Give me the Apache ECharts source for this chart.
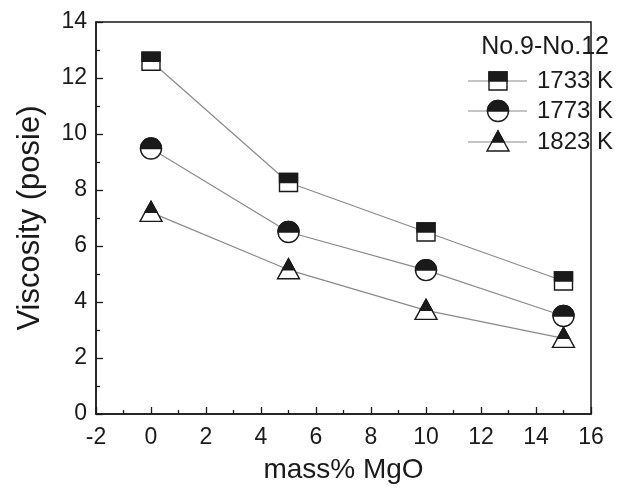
<!DOCTYPE html>
<html>
<head>
<meta charset="utf-8">
<script src="https://cdn.jsdelivr.net/npm/echarts@6/dist/echarts.min.js"></script>
<style>
  html, body { margin: 0; padding: 0; background: #fff; }
  #chart { width: 638px; height: 491px; }
</style>
</head>
<body>
<div id="chart"></div>
<script>
// MgO content (mass%) of samples No.9-No.12
const mgo = [0, 5, 10, 15];
const seriesNames = ['1733 K', '1773 K', '1823 K'];
const markerKinds = ['square', 'circle', 'triangle'];
// viscosity in poise at each temperature
const visc1733 = [12.6, 8.27, 6.5, 4.75];
const visc1773 = [9.48, 6.5, 5.14, 3.5];
const visc1823 = [7.2, 5.15, 3.7, 2.7];
const xTicks = { min: -2, max: 16, step: 2 };
const yTicks = { min: 0, max: 14, step: 2 };
const legendTitle = 'No.9-No.12';

const ink = '#1a1a1a';
const lineGray = '#8a8a8a';
const font = '"Liberation Sans", Arial, sans-serif';

// half-filled marker: white body with black outline, upper half solid black
function markerShape(kind, cx, cy) {
  const lw = 1.4;
  if (kind === 'square') {
    const h = 9;
    return [
      { type: 'rect', shape: { x: cx - h, y: cy - h, width: 2 * h, height: 2 * h },
        style: { fill: '#fff', stroke: ink, lineWidth: lw } },
      { type: 'rect', shape: { x: cx - h, y: cy - h, width: 2 * h, height: h },
        style: { fill: ink, stroke: ink, lineWidth: lw } }
    ];
  }
  if (kind === 'circle') {
    const r = 10.5;
    return [
      { type: 'circle', shape: { cx: cx, cy: cy, r: r },
        style: { fill: '#fff', stroke: ink, lineWidth: lw } },
      { type: 'sector', shape: { cx: cx, cy: cy, r: r, startAngle: Math.PI, endAngle: 2 * Math.PI },
        style: { fill: ink, stroke: ink, lineWidth: lw } }
    ];
  }
  const top = cy - 11, base = cy + 9, hw = 11;
  const midW = hw * (cy - top) / (base - top);
  return [
    { type: 'polygon', shape: { points: [[cx, top], [cx + hw, base], [cx - hw, base]] },
      style: { fill: '#fff', stroke: ink, lineWidth: lw, lineJoin: 'miter' } },
    { type: 'polygon', shape: { points: [[cx, top], [cx + midW, cy], [cx - midW, cy]] },
      style: { fill: ink, stroke: ink, lineWidth: lw, lineJoin: 'miter' } }
  ];
}

const allValues = [visc1733, visc1773, visc1823];

const lineSeries = allValues.map(function (vals, i) {
  return {
    name: seriesNames[i],
    type: 'line',
    data: mgo.map(function (x, j) { return [x, vals[j]]; }),
    symbol: 'none',
    lineStyle: { color: lineGray, width: 1.2 },
    z: 2,
    silent: true
  };
});

const markerSeries = allValues.map(function (vals, i) {
  return {
    name: seriesNames[i] + ' markers',
    type: 'custom',
    data: mgo.map(function (x, j) { return [x, vals[j]]; }),
    z: 5,
    renderItem: function (params, api) {
      const p = api.coord([api.value(0), api.value(1)]);
      return { type: 'group', children: markerShape(markerKinds[i], p[0], p[1]) };
    }
  };
});

// legend block in the upper-right corner
const legendRows = [81, 111, 142];
const legendGraphics = [{
  type: 'text', right: 29, top: 35,
  style: { text: legendTitle, font: '25px ' + font, fill: ink }
}];
seriesNames.forEach(function (name, i) {
  const y = legendRows[i];
  legendGraphics.push({
    type: 'line', shape: { x1: 468, y1: y, x2: 527, y2: y },
    style: { stroke: lineGray, lineWidth: 1.2 }
  });
  legendGraphics.push({ type: 'group', children: markerShape(markerKinds[i], 498, y) });
  legendGraphics.push({
    type: 'text', x: 537, y: y,
    style: { text: name, font: '24px ' + font, fill: ink, verticalAlign: 'middle' }
  });
});

const axisCommon = {
  type: 'value',
  nameLocation: 'middle',
  axisLine: { show: true, onZero: false, lineStyle: { color: ink, width: 1.5 } },
  axisTick: { show: true, inside: true, length: 7, lineStyle: { color: ink, width: 1.3 } },
  minorTick: { show: true, splitNumber: 2, length: 4, lineStyle: { color: ink, width: 1.3 } },
  splitLine: { show: false },
  axisLabel: { color: ink, fontSize: 23, fontFamily: font }
};

const chart = echarts.init(document.getElementById('chart'), null, { renderer: 'canvas' });
chart.setOption({
  backgroundColor: '#fff',
  animation: false,
  grid: { left: 96, right: 47, top: 22, bottom: 77, show: true, borderColor: ink, borderWidth: 1.5, backgroundColor: 'transparent' },
  xAxis: Object.assign({}, axisCommon, {
    min: xTicks.min, max: xTicks.max, interval: xTicks.step,
    name: 'mass% MgO', nameGap: 42,
    nameTextStyle: { color: ink, fontSize: 28, fontFamily: font },
    axisLabel: Object.assign({}, axisCommon.axisLabel, { margin: 12 })
  }),
  yAxis: Object.assign({}, axisCommon, {
    min: yTicks.min, max: yTicks.max, interval: yTicks.step,
    name: 'Viscosity (posie)', nameGap: 50,
    nameTextStyle: { color: ink, fontSize: 31, fontFamily: font },
    axisLabel: Object.assign({}, axisCommon.axisLabel, { margin: 9 })
  }),
  series: lineSeries.concat(markerSeries),
  graphic: legendGraphics
});
</script>
</body>
</html>
